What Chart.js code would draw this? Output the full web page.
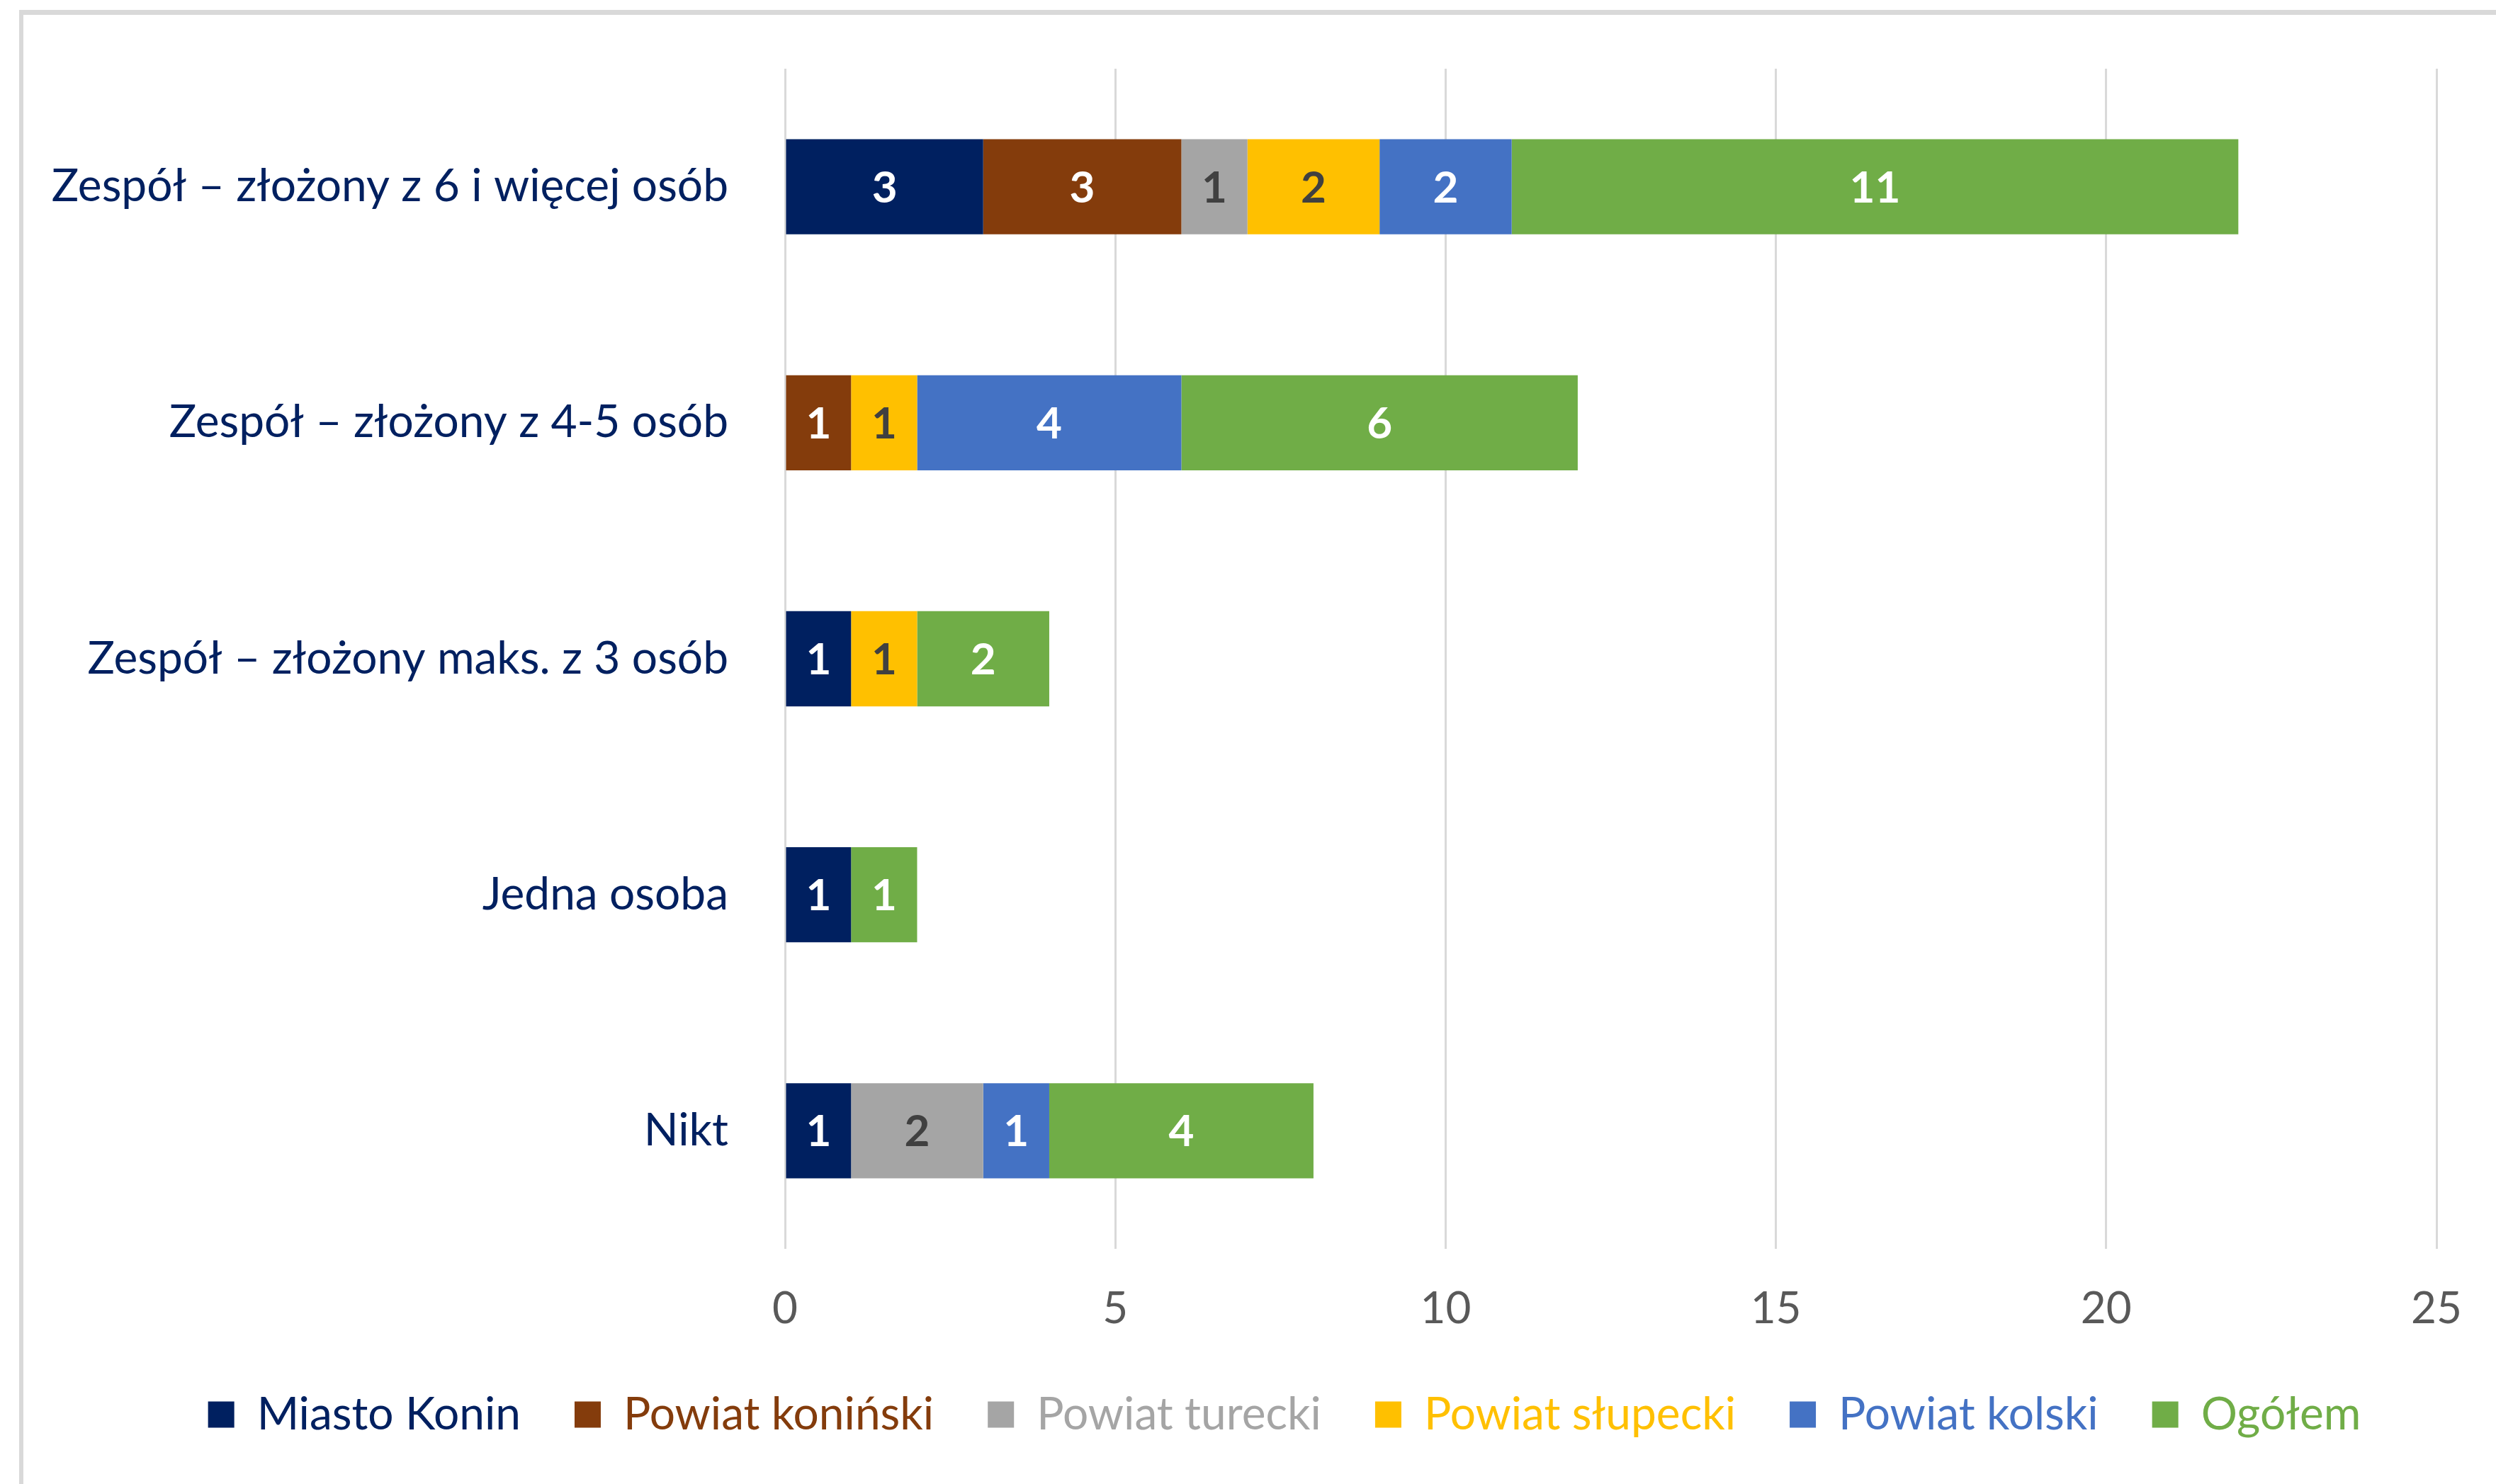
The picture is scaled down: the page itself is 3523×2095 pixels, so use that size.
<!DOCTYPE html>
<html><head><meta charset="utf-8">
<script src="https://cdn.jsdelivr.net/npm/chart.js@4/dist/chart.umd.min.js"></script>
<style>
html,body{margin:0;padding:0;background:#fff;overflow:hidden}
#frame{position:absolute;left:27px;top:14px;width:3600px;height:2200px;border-left:6px solid #d9d9d9;border-top:7px solid #d9d9d9;box-sizing:border-box}
#wrap{position:absolute;left:0;top:0;width:3523px;height:2095px}
</style></head><body>
<div id="frame"></div>
<div id="wrap"><canvas id="c"></canvas></div>
<script>
const categories = [
  "Zespół – złożony z 6 i więcej osób",
  "Zespół – złożony z 4-5 osób",
  "Zespół – złożony maks. z 3 osób",
  "Jedna osoba",
  "Nikt"
];
const seriesNames = ["Miasto Konin", "Powiat koniński", "Powiat turecki", "Powiat słupecki", "Powiat kolski", "Ogółem"];
const miastoKonin    = [3, null, 1, 1, 1];
const powiatKoninski = [3, 1, null, null, null];
const powiatTurecki  = [1, null, null, null, 2];
const powiatSlupecki = [2, 1, 1, null, null];
const powiatKolski   = [2, 4, null, null, 1];
const ogolem         = [11, 6, 2, 1, 4];
const xTicks = [0, 5, 10, 15, 20, 25];

const seriesValues = [miastoKonin, powiatKoninski, powiatTurecki, powiatSlupecki, powiatKolski, ogolem];
const seriesColors = ["#002060", "#843C0C", "#A5A5A5", "#FFC000", "#4472C4", "#70AD47"];
const labelColors  = ["#ffffff", "#ffffff", "#404040", "#404040", "#ffffff", "#ffffff"];

const FONT = "Lato, 'Liberation Sans', sans-serif";
const FS = 62;

const dataLabels = {
  id: 'dataLabels',
  afterDatasetsDraw(chart) {
    const ctx = chart.ctx;
    ctx.save();
    ctx.font = `bold ${FS}px ${FONT}`;
    ctx.textAlign = 'center';
    ctx.textBaseline = 'middle';
    chart.data.datasets.forEach((ds, di) => {
      const meta = chart.getDatasetMeta(di);
      meta.data.forEach((el, i) => {
        const v = ds.data[i];
        if (v === null || v === undefined || v === 0) return;
        ctx.fillStyle = labelColors[di];
        ctx.fillText(String(v), (el.x + el.base) / 2, el.y + 2);
      });
    });
    ctx.restore();
  }
};

const legendShift = {
  id: 'legendShift',
  afterLayout(chart) {
    if (chart.legend) { chart.legend.left += 92; chart.legend.right += 92; }
  }
};

new Chart(document.getElementById('c'), {
  type: 'bar',
  data: {
    labels: categories,
    datasets: seriesNames.map((n, i) => ({
      label: n,
      data: seriesValues[i],
      backgroundColor: seriesColors[i],
      borderWidth: 0,
      categoryPercentage: 1,
      barPercentage: 0.403
    }))
  },
  options: {
    indexAxis: 'y',
    responsive: true,
    maintainAspectRatio: false,
    animation: false,
    layout: { padding: { top: 97, right: 81, bottom: 56, left: 0 } },
    scales: {
      x: {
        stacked: true,
        min: 0, max: 25,
        afterBuildTicks(s) { s.ticks = xTicks.map(v => ({ value: v })); },
        afterFit(s) { s.height = 126; },
        grid: { color: '#d9d9d9', lineWidth: 3, drawTicks: false },
        border: { display: false },
        ticks: { padding: 48, color: '#595959', font: { family: FONT, size: FS } }
      },
      y: {
        stacked: true,
        afterFit(s) { s.width = 1108; s.paddingTop = 0; s.paddingBottom = 0; },
        grid: { display: false, drawTicks: false },
        border: { display: false },
        ticks: { padding: 80, color: '#002060', font: { family: FONT, size: 64 } }
      }
    },
    plugins: {
      legend: {
        position: 'bottom',
        labels: {
          boxWidth: 37, boxHeight: 37, padding: 76,
          font: { family: FONT, size: 64 },
          generateLabels(chart) {
            const items = Chart.defaults.plugins.legend.labels.generateLabels(chart);
            items.forEach((it, i) => { it.fontColor = seriesColors[i]; it.lineWidth = 0; it.strokeStyle = 'rgba(0,0,0,0)'; });
            return items;
          }
        }
      },
      tooltip: { enabled: false }
    }
  },
  plugins: [dataLabels, legendShift]
});
</script>
</body></html>
